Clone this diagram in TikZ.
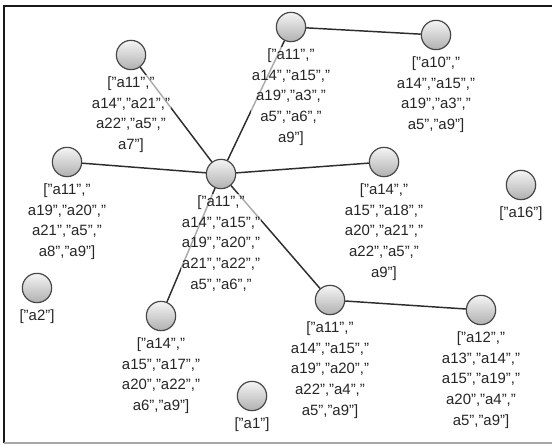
\documentclass[tikz,border=0pt]{standalone}
\usepackage{fontspec}
\setmainfont{Liberation Sans}
\usetikzlibrary{positioning}
\tikzset{ball/.style = {circle, minimum size=22pt, inner sep=0pt,
                        draw=gray!55!black, line width=0.9pt,
                        top color=gray!8, bottom color=gray!62},
         tag/.style = {align=center, font=\fontsize{11.2}{15.5}\selectfont,
                       text=black!85, fill=white, fill opacity=0.6,
                       text opacity=1, inner sep=1pt},
         link/.style = {draw=gray!35!black, line width=1.1pt}}
\definecolor{mframe}{rgb}{0.1, 0.1, 0.1}

\begin{document}
\begin{tikzpicture}[x=0.75pt, y=-0.75pt]
    \useasboundingbox (0, 0) rectangle (552, 445);
    \draw [mframe, line width=1.2pt] (4, 443) -- (4, 6) -- (552, 6);
    \draw [gray!70, line width=0.8pt] (4, 443) -- (552, 443);
    % balls
    \node [ball] (hub) at (221, 174) {};
    \node [ball] (nw) at (131, 55) {};
    \node [ball] (up) at (291, 27) {};
    \node [ball] (ur) at (436, 35) {};
    \node [ball] (west) at (67, 162) {};
    \node [ball] (east) at (384, 162) {};
    \node [ball] (lone16) at (521, 185) {};
    \node [ball] (lone2) at (37, 288) {};
    \node [ball] (sw) at (161, 316) {};
    \node [ball] (se) at (330, 300) {};
    \node [ball] (far) at (481, 310) {};
    \node [ball] (lone1) at (252, 396) {};
    % links
    \foreach \n in {nw, up, west, east, sw, se} {
      \draw [link] (hub) -- (\n);
    }
    \draw [link] (up) -- (ur);
    \draw [link] (se) -- (far);
    % labels
    \node [tag, below=3.5pt of hub] {["a11","\\a14","a15","\\a19","a20","\\a21","a22","\\a5","a6","};
    \node [tag, below=3.5pt of nw] {["a11","\\a14","a21","\\a22","a5","\\a7"]};
    \node [tag, below=3.5pt of up] {["a11","\\a14","a15","\\a19","a3","\\a5","a6","\\a9"]};
    \node [tag, below=3.5pt of ur] {["a10","\\a14","a15","\\a19","a3","\\a5","a9"]};
    \node [tag, below=3.5pt of west] {["a11","\\a19","a20","\\a21","a5","\\a8","a9"]};
    \node [tag, below=3.5pt of east] {["a14","\\a15","a18","\\a20","a21","\\a22","a5","\\a9"]};
    \node [tag, below=3.5pt of lone16] {["a16"]};
    \node [tag, below=3.5pt of lone2] {["a2"]};
    \node [tag, below=3.5pt of sw] {["a14","\\a15","a17","\\a20","a22","\\a6","a9"]};
    \node [tag, below=3.5pt of se] {["a11","\\a14","a15","\\a19","a20","\\a22","a4","\\a5","a9"]};
    \node [tag, below=3.5pt of far] {["a12","\\a13","a14","\\a15","a19","\\a20","a4","\\a5","a9"]};
    \node [tag, below=3.5pt of lone1] {["a1"]};
\end{tikzpicture}
\end{document}
